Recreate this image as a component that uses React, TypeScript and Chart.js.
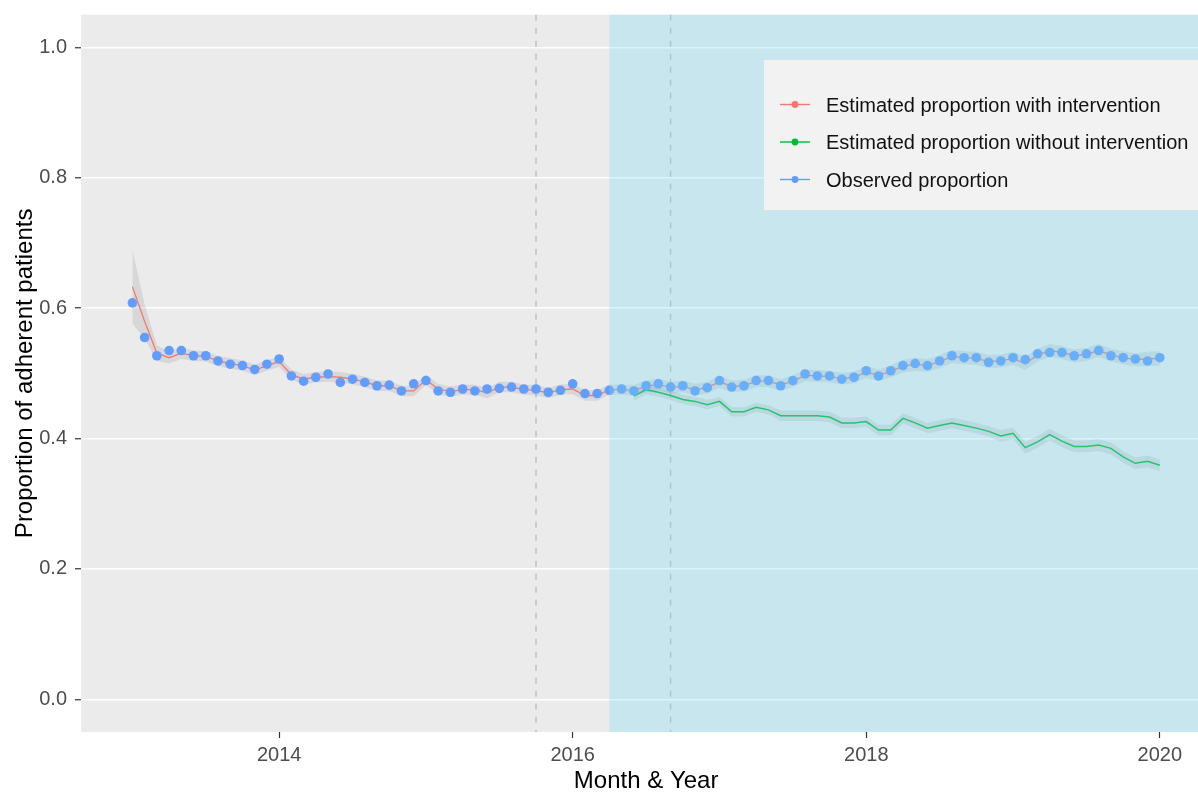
import React, { useEffect, useRef } from "react";
import { Chart, registerables } from "chart.js";

Chart.register(...registerables);

// Monthly series, Jan 2013 .. Jan 2020 (85 months)
const startYear = 2013;

const observed = [
  0.608, 0.555, 0.527, 0.535, 0.535, 0.527, 0.527, 0.519, 0.514, 0.512,
  0.506, 0.514, 0.522, 0.496, 0.488, 0.494, 0.499, 0.486, 0.491, 0.486,
  0.481, 0.482, 0.473, 0.484, 0.489, 0.473, 0.471, 0.476, 0.473, 0.476,
  0.477, 0.479, 0.476, 0.476, 0.471, 0.474, 0.484, 0.469, 0.469, 0.474,
  0.476, 0.473, 0.481, 0.484, 0.479, 0.481, 0.473, 0.478, 0.489, 0.479,
  0.481, 0.489, 0.489, 0.481, 0.489, 0.499, 0.496, 0.496, 0.491, 0.494,
  0.504, 0.496, 0.504, 0.512, 0.515, 0.512, 0.519, 0.527, 0.524, 0.524,
  0.517, 0.519, 0.524, 0.521, 0.530, 0.532, 0.532, 0.527, 0.530, 0.535,
  0.527, 0.524, 0.522, 0.519, 0.524,
];

const withIntervention = [
  0.633, 0.580, 0.531, 0.524, 0.531, 0.527, 0.526, 0.519, 0.515, 0.512,
  0.505, 0.512, 0.518, 0.498, 0.491, 0.494, 0.495, 0.494, 0.491, 0.487,
  0.481, 0.481, 0.473, 0.473, 0.490, 0.476, 0.472, 0.475, 0.475, 0.470,
  0.479, 0.479, 0.475, 0.474, 0.470, 0.475, 0.476, 0.466, 0.466, 0.475,
  0.475, 0.474, 0.480, 0.483, 0.478, 0.480, 0.475, 0.478, 0.487, 0.480,
  0.481, 0.488, 0.488, 0.482, 0.488, 0.497, 0.496, 0.495, 0.492, 0.494,
  0.502, 0.497, 0.503, 0.511, 0.514, 0.512, 0.518, 0.526, 0.524, 0.523,
  0.518, 0.519, 0.523, 0.515, 0.528, 0.535, 0.532, 0.527, 0.529, 0.535,
  0.528, 0.524, 0.521, 0.522, 0.523,
];

const withCI = [
  0.057, 0.026, 0.012, 0.009, 0.009, 0.008, 0.008, 0.008, 0.008, 0.008,
  0.008, 0.008, 0.008, 0.008, 0.008, 0.008, 0.008, 0.008, 0.008, 0.008,
  0.008, 0.008, 0.008, 0.008, 0.008, 0.008, 0.008, 0.008, 0.008, 0.008,
  0.008, 0.008, 0.008, 0.008, 0.008, 0.008, 0.008, 0.008, 0.008, 0.008,
  0.008, 0.008, 0.009, 0.009, 0.009, 0.009, 0.009, 0.009, 0.009, 0.009,
  0.009, 0.009, 0.009, 0.009, 0.009, 0.009, 0.009, 0.009, 0.009, 0.009,
  0.009, 0.009, 0.009, 0.010, 0.010, 0.010, 0.010, 0.010, 0.010, 0.010,
  0.010, 0.010, 0.010, 0.010, 0.010, 0.010, 0.010, 0.010, 0.010, 0.010,
  0.010, 0.010, 0.010, 0.011, 0.011,
];

// Counterfactual series starts Jun 2016 (month index 41)
const withoutStart = 41;
const withoutIntervention = [
  0.465, 0.475, 0.471, 0.466, 0.460, 0.457, 0.452, 0.457, 0.441, 0.441,
  0.448, 0.444, 0.435, 0.435, 0.435, 0.435, 0.433, 0.424, 0.424, 0.426,
  0.413, 0.413, 0.431, 0.424, 0.416, 0.420, 0.424, 0.420, 0.416, 0.411,
  0.404, 0.408, 0.386, 0.395, 0.406, 0.396, 0.388, 0.388, 0.390, 0.385,
  0.372, 0.362, 0.365, 0.359,
];
const withoutCI = [
  0.007, 0.007, 0.007, 0.007, 0.007, 0.007, 0.007, 0.007, 0.007, 0.007,
  0.007, 0.007, 0.008, 0.008, 0.008, 0.008, 0.008, 0.008, 0.008, 0.008,
  0.008, 0.008, 0.008, 0.008, 0.008, 0.008, 0.008, 0.008, 0.008, 0.008,
  0.009, 0.009, 0.009, 0.009, 0.009, 0.009, 0.009, 0.009, 0.009, 0.009,
  0.009, 0.009, 0.009, 0.009,
];

const yTicks = [0, 0.2, 0.4, 0.6, 0.8, 1.0];
const xTicks = [2014, 2016, 2018, 2020];
const interventionStart = 2016.25; // Apr 2016
const phaseLines = [2015.75, 2016 + 8 / 12]; // Oct 2015, Sep 2016

const legendLabels = [
  "Estimated proportion with intervention",
  "Estimated proportion without intervention",
  "Observed proportion",
];
const RED = "#F8766D";
const GREEN = "#00BA38";
const BLUE = "#619CFF";
const legendColors = [RED, GREEN, BLUE];

const FONT = '"Liberation Sans", Arial, Helvetica, sans-serif';
const CANVAS_W = 1216;

export default function App() {
  const ref = useRef<HTMLCanvasElement>(null);

  useEffect(() => {
    const canvas = ref.current;
    if (!canvas) return;
    const xOf = (i: number) => startYear + i / 12;
    const series = (arr: number[], offset = 0) =>
      arr.map((y, i) => ({ x: xOf(i + offset), y }));
    const band = (arr: number[], ci: number[], sign: number, offset = 0) =>
      arr.map((y, i) => ({ x: xOf(i + offset), y: y + sign * ci[i] }));

    const bgPlugin = {
      id: "panelBg",
      beforeDraw(chart: any) {
        const { ctx, chartArea: a } = chart;
        ctx.save();
        ctx.fillStyle = "#ffffff";
        ctx.fillRect(0, 0, chart.width, chart.height);
        ctx.fillStyle = "#EBEBEB";
        ctx.fillRect(a.left, a.top, a.right - a.left, a.bottom - a.top);
        ctx.restore();
      },
      beforeDatasetsDraw(chart: any) {
        const { ctx, chartArea: a, scales } = chart;
        ctx.save();
        ctx.strokeStyle = "#BDBDBD";
        ctx.lineWidth = 1.4;
        ctx.setLineDash([6, 7]);
        phaseLines.forEach((v) => {
          const px = scales.x.getPixelForValue(v);
          ctx.beginPath();
          ctx.moveTo(px, a.top);
          ctx.lineTo(px, a.bottom);
          ctx.stroke();
        });
        ctx.restore();
      },
      afterDatasetsDraw(chart: any) {
        const { ctx, chartArea: a, scales } = chart;
        ctx.save();
        const x0 = scales.x.getPixelForValue(interventionStart);
        ctx.fillStyle = "rgba(118,218,245,0.30)";
        ctx.fillRect(x0, a.top, a.right - x0, a.bottom - a.top);

        // legend
        const lx = 764, ly = 60, lw = 460, lh = 150;
        ctx.fillStyle = "#F2F2F2";
        ctx.fillRect(lx, ly, lw, lh);
        const rows = [104.5, 142, 179.5];
        legendLabels.forEach((lab, i) => {
          const y = rows[i];
          ctx.strokeStyle = legendColors[i];
          ctx.lineWidth = 1.4;
          ctx.setLineDash([]);
          ctx.beginPath();
          ctx.moveTo(780, y);
          ctx.lineTo(810, y);
          ctx.stroke();
          ctx.fillStyle = legendColors[i];
          ctx.beginPath();
          ctx.arc(795, y, 3.4, 0, Math.PI * 2);
          ctx.fill();
          ctx.fillStyle = "#111111";
          ctx.font = `20px ${FONT}`;
          ctx.textBaseline = "middle";
          ctx.textAlign = "left";
          ctx.fillText(lab, 826, y + 1.5);
        });
        ctx.restore();
      },
    };

    const chart = new Chart(canvas, {
      type: "line",
      data: {
        datasets: [
          {
            label: "with lower",
            data: band(withIntervention, withCI, -1),
            borderWidth: 0,
            pointRadius: 0,
            fill: false,
            order: 10,
          },
          {
            label: "with upper",
            data: band(withIntervention, withCI, 1),
            borderWidth: 0,
            pointRadius: 0,
            fill: "-1",
            backgroundColor: "rgba(120,120,120,0.17)",
            order: 9,
          },
          {
            label: "without lower",
            data: band(withoutIntervention, withoutCI, -1, withoutStart),
            borderWidth: 0,
            pointRadius: 0,
            fill: false,
            order: 8,
          },
          {
            label: "without upper",
            data: band(withoutIntervention, withoutCI, 1, withoutStart),
            borderWidth: 0,
            pointRadius: 0,
            fill: "-1",
            backgroundColor: "rgba(120,120,120,0.17)",
            order: 7,
          },
          {
            label: legendLabels[0],
            data: series(withIntervention),
            borderColor: RED,
            borderWidth: 1.3,
            pointRadius: 0,
            fill: false,
            order: 3,
          },
          {
            label: legendLabels[1],
            data: series(withoutIntervention, withoutStart),
            borderColor: GREEN,
            borderWidth: 1.5,
            pointRadius: 0,
            fill: false,
            order: 2,
          },
          {
            label: legendLabels[2],
            data: series(observed),
            showLine: false,
            pointRadius: 4.8,
            pointBorderWidth: 0,
            pointBackgroundColor: BLUE,
            backgroundColor: BLUE,
            borderColor: BLUE,
            fill: false,
            order: 1,
          },
        ],
      },
      options: {
        animation: false,
        responsive: false,
        devicePixelRatio: 1,
        layout: { padding: { top: 14.7, left: 0, right: 0, bottom: 0 } },
        plugins: {
          legend: { display: false },
          tooltip: { enabled: false },
        },
        scales: {
          x: {
            type: "linear",
            min: 2012.65,
            max: 2020.35,
            afterFit: (s: any) => {
              s.height = 60;
              s.paddingLeft = 0;
              s.paddingRight = 0;
            },
            afterBuildTicks: (s: any) => {
              s.ticks = xTicks.map((v) => ({ value: v }));
            },
            ticks: {
              callback: (v: any) => String(v),
              color: "#4D4D4D",
              font: { family: FONT, size: 20 },
              padding: 5,
              maxRotation: 0,
              autoSkip: false,
            },
            grid: {
              drawOnChartArea: false,
              drawTicks: true,
              tickLength: 6,
              tickColor: "#333333",
              tickWidth: 1.2,
            },
            border: { display: false },
            title: {
              display: true,
              text: "Month & Year",
              color: "#000000",
              font: { family: FONT, size: 24, lineHeight: 1 },
              padding: { top: 0, bottom: -1 },
            },
          },
          y: {
            type: "linear",
            min: -0.05,
            max: 1.05,
            afterFit: (s: any) => {
              s.width = 81;
              s.paddingTop = 0;
              s.paddingBottom = 0;
            },
            afterBuildTicks: (s: any) => {
              s.ticks = yTicks.map((v) => ({ value: v }));
            },
            ticks: {
              callback: (v: any) => Number(v).toFixed(1),
              color: "#4D4D4D",
              font: { family: FONT, size: 20 },
              padding: 8,
              autoSkip: false,
            },
            grid: {
              color: "#FFFFFF",
              lineWidth: 1.5,
              drawTicks: true,
              tickLength: 6,
              tickColor: "#333333",
              tickWidth: 1.2,
            },
            border: { display: false },
            title: {
              display: true,
              text: "Proportion of adherent patients",
              color: "#000000",
              font: { family: FONT, size: 24 },
              padding: { top: 11, bottom: 0 },
            },
          },
        },
      },
      plugins: [bgPlugin],
    } as any);

    return () => chart.destroy();
  }, []);

  return (
    <div
      style={{
        position: "absolute",
        left: 0,
        top: 0,
        width: 1198,
        height: 792,
        overflow: "hidden",
        background: "#ffffff",
      }}
    >
      <canvas
        ref={ref}
        width={CANVAS_W}
        height={792}
        style={{ display: "block", width: CANVAS_W, height: 792 }}
      />
    </div>
  );
}
